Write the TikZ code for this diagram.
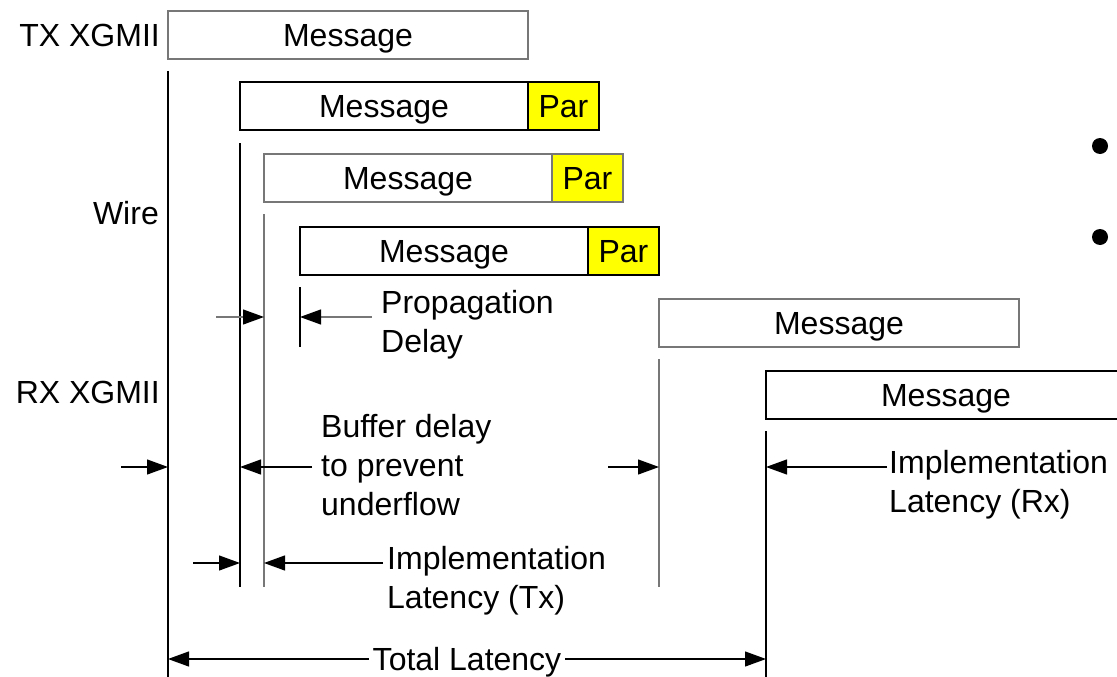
\documentclass[tikz,border=0pt]{standalone}
\usepackage{fontspec}
\setmainfont{Liberation Sans}
\usetikzlibrary{positioning, arrows.meta}
\definecolor{cPAR}{HTML}{FFFF00}
\definecolor{cGREY}{HTML}{777777}
\newcommand{\figfont}{\fontsize{32}{39}\selectfont}
\tikzset{
  msgbox/.style={
    draw=#1, line width=1.2pt,
    fill=white,
    anchor=north west,
    minimum width=288pt,
    minimum height=48pt,
    inner sep=0pt, outer sep=0pt,
    text height=23pt, text depth=0pt,
    font=\figfont
  },
  msgbox/.default=black,
  parbox/.style={
    msgbox=#1,
    fill=cPAR,
    minimum width=71pt
  },
  parbox/.default=black,
  vline/.style={
    line width=1.2pt,
    draw=#1
  },
  vline/.default=black,
  dim/.style={
    -{Triangle[length=21pt,width=15pt,color=black]},
    line width=1.2pt,
    draw=#1
  },
  dim/.default=black,
  rowlabel/.style={
    anchor=east,
    inner sep=0pt,
    font=\figfont
  },
  note/.style={
    anchor=north west,
    align=left,
    inner sep=0pt,
    font=\figfont
  },
  total/.style={
    inner sep=4pt,
    text height=23pt, text depth=0pt,
    font=\figfont
  },
  dot/.style={
    circle, fill=black,
    inner sep=0pt,
    minimum size=16pt
  }
}

\begin{document}
\begin{tikzpicture}[x=1pt, y=-1pt]
  \path[use as bounding box, clip] (0,0) rectangle (1117,677);

  % row labels
  \node[rowlabel] (txlbl) at (160,35) {TX XGMII};
  \node[rowlabel] (wirelbl) at (159,213) {Wire};
  \node[rowlabel] (rxlbl) at (160,392) {RX XGMII};

  % messages
  \node[msgbox=cGREY, minimum width=360pt] (txmsg) at (168,11) {Message};
  \node[msgbox] (wmsgA) at (240,82) {Message};
  \node[parbox, right=0pt of wmsgA] (wparA) {Par};
  \node[msgbox=cGREY] (wmsgB) at (264,154) {Message};
  \node[parbox=cGREY, right=0pt of wmsgB] (wparB) {Par};
  \node[msgbox] (wmsgC) at (300,227) {Message};
  \node[parbox, right=0pt of wmsgC] (wparC) {Par};
  \node[msgbox=cGREY, minimum width=360pt] (rxmsgA) at (659,299) {Message};
  \node[msgbox, minimum width=360pt] (rxmsgB) at (766,371) {Message};

  % time marks
  \coordinate (floor) at (0,677);
  \coordinate (lowTx) at (0,587);
  \coordinate (propEnd) at (0,347);
  \draw[vline] ([yshift=-12pt]txmsg.south west) -- (txmsg.south west |- floor);
  \draw[vline] ([yshift=-13pt]wmsgA.south west) -- (wmsgA.south west |- lowTx);
  \draw[vline=cGREY] ([yshift=-12pt]wmsgB.south west) -- (wmsgB.south west |- lowTx);
  \draw[vline] ([yshift=-12pt]wmsgC.south west) -- (wmsgC.south west |- propEnd);
  \draw[vline=cGREY] ([yshift=-12pt]rxmsgA.south west) -- (rxmsgA.south west |- lowTx);
  \draw[vline] ([yshift=-12pt]rxmsgB.south west) -- (rxmsgB.south west |- floor);

  % propagation
  \coordinate (wireL) at (216,317);
  \coordinate (propR) at (372,317);
  \draw[dim=cGREY] (wireL) -- (wireL -| wmsgB.south west);
  \draw[dim=cGREY] (propR) -- (propR -| wmsgC.south west);
  \node[note] (prop) at (381,290) {Propagation\\Delay};

  % buffer
  \coordinate (bufL) at (121,467);
  \coordinate (bufR) at (312,467);
  \draw[dim] (bufL) -- (bufL -| txmsg.south west);
  \draw[dim] (bufR) -- (bufR -| wmsgA.south west);
  \node[note] (buf) at (321,414) {Buffer delay\\to prevent\\underflow};

  % rx latency
  \coordinate (rxL) at (608,467);
  \coordinate (rxR) at (887,467);
  \draw[dim] (rxL) -- (rxL -| rxmsgA.south west);
  \draw[dim] (rxR) -- (rxR -| rxmsgB.south west);
  \node[note] (implRx) at (889,450) {Implementation\\Latency (Rx)};

  % tx latency
  \coordinate (txL) at (193,563);
  \coordinate (txR) at (383,563);
  \draw[dim] (txL) -- (txL -| wmsgA.south west);
  \draw[dim] (txR) -- (txR -| wmsgB.south west);
  \node[note] (implTx) at (387,546) {Implementation\\Latency (Tx)};

  % total
  \node[total] (total) at (467,659) {Total Latency};
  \draw[dim] (total.west) -- (total.west -| txmsg.south west);
  \draw[dim] (total.east) -- (total.east -| rxmsgB.south west);

  \node[dot] (dotA) at (1100,146) {};
  \node[dot] (dotB) at (1100,237) {};
\end{tikzpicture}
\end{document}
